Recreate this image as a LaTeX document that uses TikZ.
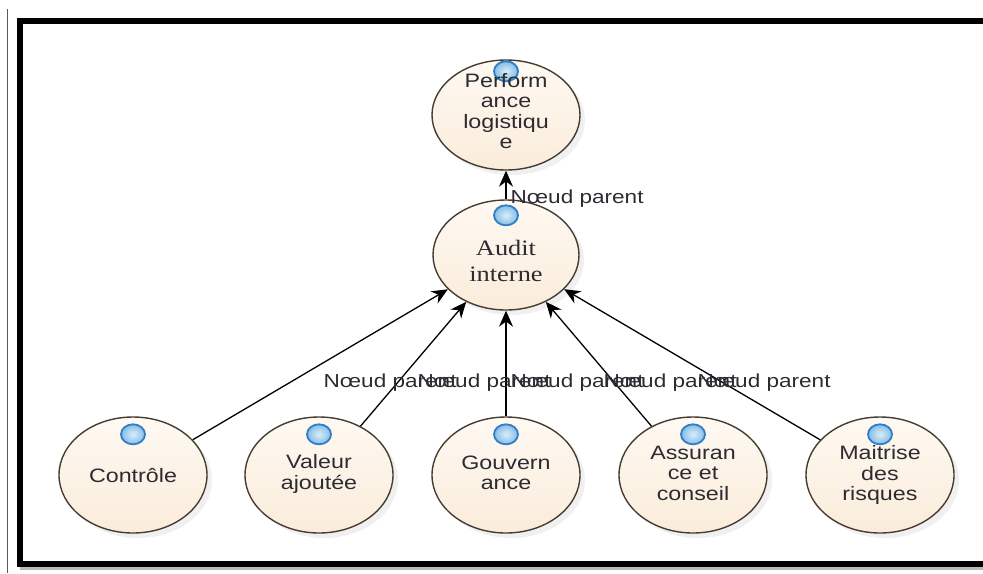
\documentclass[tikz,border=0pt]{standalone}
\usepackage{fontspec}
\setmainfont[FakeStretch=1.2]{Liberation Serif}
\setsansfont[FakeStretch=1.2]{Liberation Sans}
\usetikzlibrary{arrows.meta}
\usetikzlibrary{shapes.geometric}
\usetikzlibrary{shadows}
\definecolor{peachtop}{RGB}{254,249,242}
\definecolor{peachbot}{RGB}{250,236,218}
\definecolor{rim}{RGB}{70,60,50}
\definecolor{bleu}{RGB}{150,205,240}
\definecolor{bleurim}{RGB}{50,125,195}
\definecolor{ink}{RGB}{45,43,50}

\begin{document}
\begin{tikzpicture}[x=0.5pt,y=-0.5pt,->,>={Stealth[length=8pt,width=7pt]},line width=0.65pt,
    main node/.style={ellipse,draw=rim,line width=0.7pt,top color=peachtop,bottom color=peachbot,inner sep=0pt,minimum width=74pt,minimum height=58pt,drop shadow={opacity=0.12,shadow xshift=2.5pt,shadow yshift=-2.5pt}},
    icon node/.style={ellipse,draw=bleurim,line width=0.9pt,inner color=bleu!35!white,outer color=bleu!80!bleurim,inner sep=0pt,minimum width=12pt,minimum height=10pt},
    text node/.style={align=center,text=ink,font=\sffamily\fontsize{9.7}{10.25}\selectfont},
    link label/.style={anchor=base west,inner sep=0pt,text=ink,font=\sffamily\fontsize{9.4}{10}\selectfont}]
  \useasboundingbox (0,0) rectangle (983,573);
  % cadre
  \draw[-,line width=2pt,gray!55] (20,568) -- (990,568);
  \draw[-,line width=3pt] (990,21) -- (20,21) -- (20,564) -- (990,564);
  \draw[-,line width=0.5pt,gray!70!black] (7,9) -- (7,573);
  % noeuds
  \node[main node,minimum height=55pt] (perf) at (506,115) {};
  \node[main node,minimum width=73pt,minimum height=55pt] (audit) at (506,255) {};
  \node[main node] (ctrl) at (133,475) {};
  \node[main node] (valeur) at (319,475) {};
  \node[main node] (gouv) at (506,475) {};
  \node[main node] (assur) at (693,475) {};
  \node[main node] (risques) at (880,475) {};
  \foreach \n/\s in {perf/6,audit/8,ctrl/9,valeur/9,gouv/9,assur/9,risques/9}
    \node[icon node] (\n-i) at ([yshift=-\s pt]\n.north) {};
  \node[text node] (perf-t) at (506,111) {Perform\\ance\\logistiqu\\e};
  \node[text node,font=\rmfamily\fontsize{11}{13}\selectfont] (audit-t) at (506,261) {Audit\\interne};
  \node[text node] (ctrl-t) at (133,476) {Contrôle};
  \node[text node] (valeur-t) at (319,474) {Valeur\\ajoutée};
  \node[text node] (gouv-t) at (506,473) {Gouvern\\ance};
  \node[text node] (assur-t) at (693,473) {Assuran\\ce et\\conseil};
  \node[text node] (risques-t) at (880,475) {Maitrise\\des\\risques};
  % liens
  \path (audit) edge (perf);
  \foreach \n in {ctrl,valeur,gouv,assur,risques}
    \path (\n) edge (audit);
  \node[link label] (lien0) at (510,203) {Nœud parent};
  \foreach \x [count=\i] in {323,417,510,603,697}
    \node[link label] (lien\i) at (\x,387) {Nœud parent};
\end{tikzpicture}
\end{document}
